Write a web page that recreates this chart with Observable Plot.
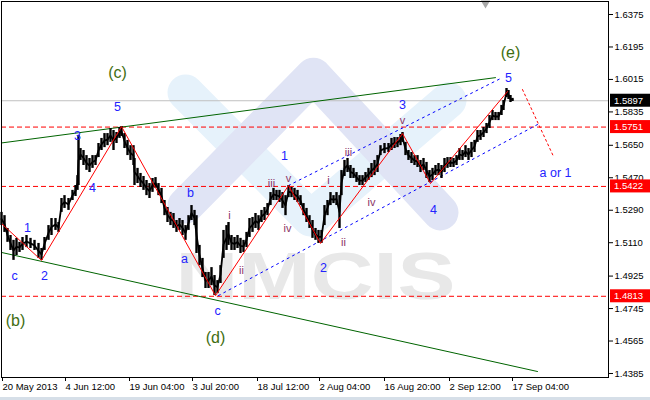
<!DOCTYPE html>
<html><head><meta charset="utf-8">
<script src="https://cdn.jsdelivr.net/npm/d3@7"></script>
<script src="https://cdn.jsdelivr.net/npm/@observablehq/plot@0.6"></script>
<style>
html,body{margin:0;padding:0;background:#fff;}
#chart{position:relative;width:650px;height:400px;overflow:hidden;}
#strip{position:absolute;left:0;top:397px;width:650px;height:3px;background:#d6dfe8;}
</style></head>
<body><div id="chart"></div>
<script>
// ---- price bars (H4, bar index = position on the time axis) ----
const barIndex = [
1,4,7,10,13,16,19,22,26,30,
34,38,41,44,48,51,55,58,61,64,
68,72,75,77,78,80,83,86,89,92,
95,98,101,104,107,110,113,116,119,121,
124,127,130,133,134,137,140,143,146,149,
152,155,158,161,164,167,170,173,176,179,
182,185,188,191,194,196,199,202,205,208,
211,214,217,220,223,226,228,231,234,237,
240,243,246,249,252,255,258,261,264,267,
270,273,276,279,282,285,288,291,294,297,
300,303,306,309,312,315,318,321,324,327,
330,333,336,339,341,344,347,350,353,356,
359,362,365,368,371,374,377,380,384,388,
391,394,397,400,402,405,408,411,414,417,
420,423,426,429,432,435,438,441,444,447,
450,453,456,459,462,465,468,471,474,477,
480,483,486,489,492,495,498,501,503,506,
508,510,512];
const barHigh = [
1.5278,1.5260,1.5189,1.5150,1.5123,1.5134,1.5112,1.5139,1.5150,1.5134,
1.5123,1.5106,1.5078,1.5139,1.5205,1.5244,1.5244,1.5222,1.5355,1.5371,
1.5355,1.5400,1.5427,1.5482,1.5704,1.5632,1.5621,1.5593,1.5577,1.5593,
1.5593,1.5660,1.5688,1.5715,1.5715,1.5743,1.5732,1.5721,1.5749,1.5754,
1.5715,1.5677,1.5648,1.5648,1.5577,1.5522,1.5494,1.5477,1.5455,1.5438,
1.5466,1.5471,1.5438,1.5411,1.5344,1.5305,1.5278,1.5272,1.5233,1.5244,
1.5233,1.5205,1.5260,1.5316,1.5289,1.5260,1.5095,1.5023,1.4945,1.4945,
1.4972,1.4928,1.4900,1.4983,1.5178,1.5205,1.5222,1.5150,1.5139,1.5150,
1.5134,1.5123,1.5167,1.5244,1.5250,1.5272,1.5260,1.5289,1.5305,1.5327,
1.5388,1.5411,1.5400,1.5400,1.5388,1.5371,1.5427,1.5416,1.5411,1.5400,
1.5371,1.5327,1.5300,1.5260,1.5233,1.5189,1.5178,1.5178,1.5316,1.5344,
1.5388,1.5371,1.5388,1.5371,1.5510,1.5566,1.5577,1.5538,1.5522,1.5499,
1.5482,1.5482,1.5499,1.5522,1.5549,1.5566,1.5593,1.5648,1.5660,1.5660,
1.5688,1.5693,1.5693,1.5710,1.5721,1.5666,1.5621,1.5610,1.5593,1.5593,
1.5566,1.5577,1.5555,1.5510,1.5522,1.5538,1.5549,1.5538,1.5577,1.5582,
1.5582,1.5577,1.5593,1.5632,1.5621,1.5648,1.5632,1.5666,1.5677,1.5732,
1.5732,1.5749,1.5771,1.5815,1.5843,1.5832,1.5832,1.5871,1.5898,1.5965,
1.5954,1.5926,1.5910];
const barLow = [
1.5205,1.5167,1.5112,1.5067,1.5012,1.5039,1.5056,1.5067,1.5083,1.5078,
1.5067,1.5023,1.5012,1.5067,1.5123,1.5150,1.5178,1.5167,1.5278,1.5300,
1.5289,1.5344,1.5366,1.5400,1.5427,1.5566,1.5538,1.5511,1.5499,1.5522,
1.5538,1.5582,1.5621,1.5637,1.5648,1.5666,1.5621,1.5660,1.5688,1.5699,
1.5632,1.5593,1.5566,1.5538,1.5427,1.5438,1.5416,1.5400,1.5371,1.5355,
1.5389,1.5411,1.5371,1.5327,1.5260,1.5222,1.5205,1.5189,1.5167,1.5178,
1.5150,1.5123,1.5178,1.5233,1.5205,1.5050,1.4983,1.4917,1.4856,1.4856,
1.4872,1.4817,1.4828,1.4884,1.5023,1.5067,1.5095,1.5067,1.5067,1.5078,
1.5050,1.5056,1.5083,1.5139,1.5167,1.5189,1.5178,1.5222,1.5233,1.5260,
1.5316,1.5344,1.5344,1.5333,1.5300,1.5260,1.5360,1.5360,1.5344,1.5333,
1.5316,1.5260,1.5222,1.5189,1.5134,1.5123,1.5106,1.5106,1.5205,1.5260,
1.5316,1.5327,1.5316,1.5189,1.5371,1.5477,1.5499,1.5466,1.5466,1.5444,
1.5427,1.5427,1.5444,1.5455,1.5471,1.5482,1.5499,1.5593,1.5604,1.5610,
1.5621,1.5632,1.5637,1.5648,1.5666,1.5593,1.5566,1.5549,1.5538,1.5527,
1.5499,1.5510,1.5466,1.5444,1.5455,1.5482,1.5482,1.5466,1.5499,1.5522,
1.5527,1.5527,1.5538,1.5566,1.5566,1.5582,1.5566,1.5582,1.5610,1.5666,
1.5677,1.5693,1.5715,1.5743,1.5787,1.5787,1.5787,1.5815,1.5843,1.5915,
1.5904,1.5887,1.5893];

// ---- axes ----
const yTicks = [1.6375,1.6195,1.6015,1.5835,1.5650,1.5470,1.5290,1.5110,1.4925,1.4745,1.4565,1.4385];
const xTickIndex = [1,64,128,191,256,318,383,448,511];
const xTickLabels = ["20 May 2013","4 Jun 12:00","19 Jun 04:00","3 Jul 20:00","18 Jul 12:00","2 Aug 04:00","16 Aug 20:00","2 Sep 12:00","17 Sep 04:00"];

// ---- levels ----
const levelPrices = [1.5751, 1.5422, 1.4813];
const currentPrice = 1.5897;
const shiftMarkX = 485, shiftMarkP = 1.6438;

// ---- trend lines ----
const greenUpperX = [1, 495], greenUpperP = [1.5663, 1.6025];
const greenLowerX = [1, 537], greenLowerP = [1.5056, 1.4396];
const blueUpperX = [288, 500], blueUpperP = [1.5427, 1.6020];
const blueLowerX = [218, 537], blueLowerP = [1.4817, 1.5765];
const waveLineX = [1, 41, 121, 215, 288, 320, 402, 430, 507];
const waveLineP = [1.5216, 1.5012, 1.5754, 1.4817, 1.5427, 1.5106, 1.5715, 1.5438, 1.5948];
const projX = [522, 553], projP = [1.5959, 1.5588];

// ---- wave labels ----
const degreeText = ["(c)", "(e)", "(b)", "(d)"];
const degreeX = [117, 510, 15, 215];
const degreeP = [1.6054, 1.6165, 1.4679, 1.4585];
const waveText = ["5","3","4","1","2","c","b","a","c","1","2","3","4","5","a or 1"];
const waveX = [117, 77, 92, 27, 44, 14, 190, 184, 217, 284, 323, 402, 433, 508, 555];
const waveP = [1.5865,1.5704,1.5416,1.5189,1.4923,1.4923,1.5383,1.5017,1.4734,1.5593,1.4972,1.5876,1.5294,1.6025,1.5494];
const subText = ["i","ii","iii","v","iv","i","iii","ii","iv","v"];
const subX = [229, 241, 271, 288, 287, 328, 348, 343, 371, 402];
const subP = [1.5260,1.4956,1.5438,1.5466,1.5189,1.5455,1.5610,1.5112,1.5333,1.5788];

// ---- watermark ----
const markBlueX = [185, 310, 448], markBlueP = [1.5943, 1.5244, 1.5899];
const markLavX = [185, 313, 440], markLavP = [1.5316, 1.6036, 1.5278];
const markText = "NMCIS", markX = 315, markP = 1.4917;

const pts = (xs, ps) => xs.map((x, i) => [x, ps[i]]);
const idx = d3.range(barIndex.length);
const FONT = "'Liberation Sans', Arial, sans-serif";

const chart = Plot.plot({
  width: 650, height: 400,
  marginLeft: 1, marginRight: 42, marginTop: 1, marginBottom: 23,
  style: {fontFamily: FONT, fontSize: "9.5px", background: "white", color: "black", overflow: "visible"},
  x: {type: "linear", domain: [1, 608], axis: null},
  y: {type: "linear", domain: [1.43628, 1.64471], axis: null},
  marks: [
    Plot.line(pts(markBlueX, markBlueP), {stroke: "#e6f2fb", strokeWidth: 36, strokeLinecap: "round", strokeLinejoin: "round"}),
    Plot.line(pts(markLavX, markLavP), {stroke: "#e0e4f5", strokeWidth: 36, strokeLinecap: "round", strokeLinejoin: "round"}),
    Plot.text([markText], {x: markX, y: markP, text: d => d, fontSize: 66, fontWeight: "bold", fill: "#e8e8e8"}),
    Plot.ruleY([currentPrice], {stroke: "#c0c0c0", strokeWidth: 1}),
    Plot.ruleY(levelPrices, {stroke: "#ff0000", strokeWidth: 1, strokeDasharray: "5,3"}),
    Plot.line(pts(greenUpperX, greenUpperP), {stroke: "#006400", strokeWidth: 1}),
    Plot.line(pts(greenLowerX, greenLowerP), {stroke: "#006400", strokeWidth: 1}),
    Plot.line(pts(blueUpperX, blueUpperP), {stroke: "#0000ff", strokeWidth: 1, strokeDasharray: "2,4"}),
    Plot.line(pts(blueLowerX, blueLowerP), {stroke: "#0000ff", strokeWidth: 1, strokeDasharray: "2,4"}),
    Plot.ruleX(idx, {x: i => barIndex[i], y1: i => barLow[i], y2: i => barHigh[i], stroke: "#000", strokeWidth: 2.4}),
    Plot.line(idx, {x: i => barIndex[i], y: i => (barLow[i] + barHigh[i]) / 2, stroke: "#000", strokeWidth: 1.8}),
    Plot.line(pts(waveLineX, waveLineP), {stroke: "#ff0000", strokeWidth: 1}),
    Plot.line(pts(projX, projP), {stroke: "#ff0000", strokeWidth: 1, strokeDasharray: "2,3"}),
    Plot.dot([0], {x: shiftMarkX, y: shiftMarkP, symbol: "triangle", rotate: 180, r: 3.5, fill: "#a8a8a8", stroke: "none"}),
    Plot.text(d3.range(degreeText.length), {x: i => degreeX[i], y: i => degreeP[i], text: i => degreeText[i], fontSize: 16, fill: "#3f6e12"}),
    Plot.text(d3.range(waveText.length), {x: i => waveX[i], y: i => waveP[i], text: i => waveText[i], fontSize: 12.5, fill: "#2323ff"}),
    Plot.text(d3.range(subText.length), {x: i => subX[i], y: i => subP[i], text: i => subText[i], fontSize: 11, fill: "#8a3466"}),
    Plot.frame({stroke: "#000"}),
    Plot.axisY(yTicks, {anchor: "right", tickSize: 4, tickPadding: 2, tickFormat: d => d.toFixed(4), fontSize: 9.5, label: null}),
    Plot.axisX(xTickIndex, {anchor: "bottom", tickSize: 4, tickPadding: 2, textAnchor: "start", dx: 1, tickFormat: d => xTickLabels[xTickIndex.indexOf(d)], fontSize: 9.5, label: null})
  ]
});

const root = document.getElementById("chart");
root.appendChild(chart);
const strip = document.createElement("div");
strip.id = "strip";
root.appendChild(strip);

// price tags on the right scale
const ys = chart.scale("y");
const svg = d3.select(chart);
const tags = levelPrices.map(p => ({p, bg: "#ff0000"})).concat([{p: currentPrice, bg: "#000"}]);
const g = svg.append("g");
tags.forEach(t => {
  const yy = ys.apply(t.p);
  g.append("rect").attr("x", 610).attr("y", yy - 6.5).attr("width", 40).attr("height", 13).attr("fill", t.bg);
  g.append("text").attr("x", 614).attr("y", yy + 3.4).attr("fill", "#fff").attr("text-anchor", "start")
    .attr("font-size", "9.5px").attr("font-family", FONT).text(t.p.toFixed(4));
});
// stretch watermark text
svg.selectAll("text").filter(function(){ return this.textContent === markText; })
  .attr("textLength", 280).attr("lengthAdjust", "spacingAndGlyphs");
</script>
</body></html>
